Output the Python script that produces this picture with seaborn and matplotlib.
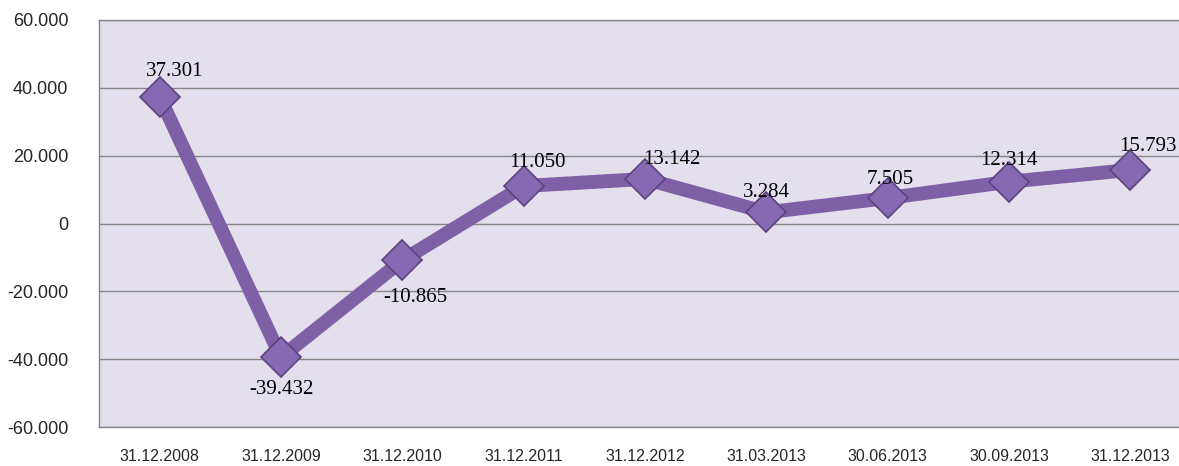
import matplotlib
matplotlib.use("Agg")
import matplotlib.pyplot as plt
from matplotlib.ticker import FuncFormatter
import seaborn as sns
import pandas as pd

# Datos
fechas = ["31.12.2008", "31.12.2009", "31.12.2010", "31.12.2011", "31.12.2012",
          "31.03.2013", "30.06.2013", "30.09.2013", "31.12.2013"]
valores = [37301, -39432, -10865, 11050, 13142, 3284, 7505, 12314, 15793]
etiquetas = ["37.301", "-39.432", "-10.865", "11.050", "13.142",
             "3.284", "7.505", "12.314", "15.793"]
ticks_y = [-60000, -40000, -20000, 0, 20000, 40000, 60000]

# desplazamiento de las etiquetas (en puntos)
offsets = [(11, 18), (0, -23), (9, -27), (10, 17), (19, 14),
           (0, 14), (2, 13), (0, 15), (13, 17)]

sns.set_style("white")
plt.rcParams['font.family'] = ['Liberation Sans', 'DejaVu Sans']

df = pd.DataFrame({"pos": range(len(fechas)), "valor": valores})

fig = plt.figure(figsize=(11.79, 4.66), dpi=100)
ax = fig.add_axes([99 / 1179, 1 - 427 / 466, 1092 / 1179, 407 / 466])
ax.set_facecolor('#E4DFEC')

sns.lineplot(data=df, x="pos", y="valor", ax=ax, color='#7D60A6', linewidth=10,
             marker='D', markersize=20, markerfacecolor='#8669B3',
             markeredgecolor='#5A437F', markeredgewidth=1.2, zorder=3)

for i, (v, t) in enumerate(zip(valores, etiquetas)):
    ax.annotate(t, (i, v), xytext=offsets[i], textcoords='offset points',
                ha='center', va='center', fontsize=15,
                family=['Liberation Serif', 'DejaVu Serif'], color='black', zorder=4)

ax.set_xlim(-0.5, len(fechas) - 0.5)
ax.set_ylim(-60000, 60000)
ax.set_yticks(ticks_y)
ax.yaxis.set_major_formatter(FuncFormatter(lambda v, p: "0" if v == 0 else f"{int(v):,}".replace(",", ".")))
ax.set_xticks(range(len(fechas)))
ax.set_xticklabels(fechas)
ax.grid(axis='y', color='#868686', linewidth=1)
ax.set_axisbelow(True)
ax.tick_params(axis='y', length=0, pad=22, labelsize=13)
ax.tick_params(axis='x', length=0, pad=16, labelsize=11.5)
ax.set_xlabel("")
ax.set_ylabel("")
for s in ax.spines.values():
    s.set_color('#868686')
    s.set_linewidth(1)

plt.savefig("out.png", dpi=100)
